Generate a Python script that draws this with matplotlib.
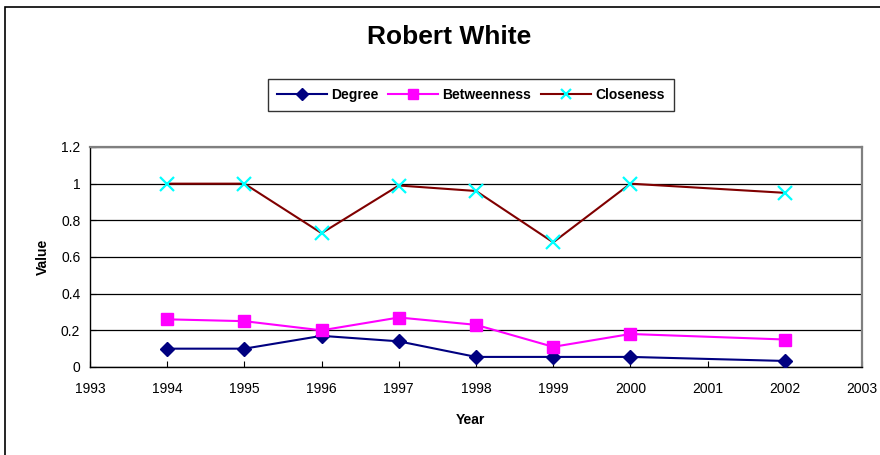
import matplotlib
matplotlib.use("Agg")
import matplotlib.pyplot as plt
import matplotlib.patches as mpatches

# ---- data -------------------------------------------------------------------
YEARS       = [1994, 1995, 1996, 1997, 1998, 1999, 2000, 2002]
DEGREE      = [0.10, 0.10, 0.17, 0.14, 0.055, 0.055, 0.055, 0.033]
BETWEENNESS = [0.26, 0.25, 0.20, 0.27, 0.23, 0.11, 0.18, 0.15]
CLOSENESS   = [1.00, 1.00, 0.73, 0.99, 0.96, 0.68, 1.00, 0.95]
X_TICKS     = list(range(1993, 2004))
Y_TICKS     = [0, 0.2, 0.4, 0.6, 0.8, 1, 1.2]
Y_TICKLABELS = ["0", "0.2", "0.4", "0.6", "0.8", "1", "1.2"]

plt.rcParams["font.family"] = ["Liberation Sans", "DejaVu Sans"]

W, H = 880, 455
fig = plt.figure(figsize=(W / 100, H / 100), dpi=100)
fig.patch.set_facecolor("white")

# outer chart-area border (cut off at right and bottom)
fig.patches.append(mpatches.Rectangle(
    (5 / W, -0.1), 2.0, (H - 7) / H + 0.1,
    transform=fig.transFigure, fill=False, edgecolor="black", linewidth=1.2))

ax = fig.add_axes([90 / W, (H - 367) / H, (862 - 90) / W, (367 - 147) / H])

ax.plot(YEARS, DEGREE, color="#000080", linewidth=1.5, marker="D",
        markersize=7.5, markerfacecolor="#000080", markeredgecolor="#000080",
        label="Degree", zorder=4)
ax.plot(YEARS, BETWEENNESS, color="#FF00FF", linewidth=1.5, marker="s",
        markersize=9, markerfacecolor="#FF00FF", markeredgecolor="#FF00FF",
        label="Betweenness", zorder=4)
ax.plot(YEARS, CLOSENESS, color="#800000", linewidth=1.5, marker="x",
        markersize=10, markeredgewidth=1.6, markeredgecolor="#00FFFF",
        label="Closeness", zorder=4)

ax.set_xlim(1993, 2003)
ax.set_ylim(0, 1.2)
ax.set_xticks(X_TICKS)
ax.set_xticklabels([str(y) for y in X_TICKS])
ax.set_yticks(Y_TICKS)
ax.set_yticklabels(Y_TICKLABELS)
ax.tick_params(axis="x", direction="in", length=4, labelsize=10, pad=11)
ax.tick_params(axis="y", direction="in", length=4, labelsize=10, pad=7)

ax.grid(axis="y", color="black", linewidth=0.9, zorder=1)
for s in ["top", "right"]:
    ax.spines[s].set_color("#808080")
    ax.spines[s].set_linewidth(1.6)
for s in ["left", "bottom"]:
    ax.spines[s].set_color("black")
    ax.spines[s].set_linewidth(1.0)

fig.text(470 / W, (H - 420) / H, "Year", ha="center", va="center",
         fontsize=10, fontweight="bold")
fig.text(43 / W, (H - 257) / H, "Value", ha="center", va="center",
         rotation=90, fontsize=10, fontweight="bold")

fig.text(449 / W, (H - 37.5) / H, "Robert White", ha="center", va="center",
         fontsize=19, fontweight="bold")

leg = fig.legend(loc="center", bbox_to_anchor=(471 / W, (H - 95) / H),
                 ncol=3, fontsize=10, frameon=True, fancybox=False,
                 edgecolor="black", handlelength=3.6, handletextpad=0.3,
                 columnspacing=0.7, borderpad=0.65, markerscale=0.75)
leg.get_frame().set_linewidth(1.0)
for t in leg.get_texts():
    t.set_fontweight("bold")

fig.savefig("out.png", dpi=100)
